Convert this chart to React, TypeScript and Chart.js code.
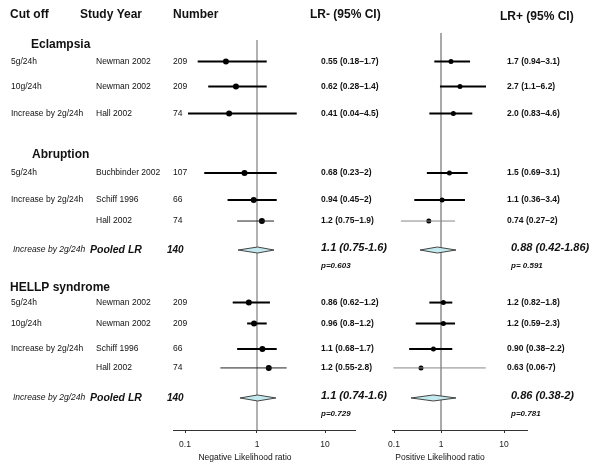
import React, { useEffect, useRef } from 'react';
import { Chart, registerables, LogarithmicScale } from 'chart.js';

Chart.register(...registerables);

// Log scale whose decades below and above 1 may have different widths (as in the source figure)
class SplitLogScale extends LogarithmicScale {
  static id = 'splitlog';
  static defaults = {};
  getPixelForValue(value: any) {
    if (value === null || value === undefined || isNaN(value) || value <= 0) return NaN;
    const lmin = Math.log10(this.min);
    const lmax = Math.log10(this.max);
    const w = (this.options as any).pivotFraction ?? 0.5;
    const l = Math.log10(value);
    const f = l < 0 ? (w * (l - lmin)) / -lmin : w + ((1 - w) * l) / lmax;
    return this.getPixelForDecimal(f);
  }
  getValueForPixel(pixel: number) {
    const lmin = Math.log10(this.min);
    const lmax = Math.log10(this.max);
    const w = (this.options as any).pivotFraction ?? 0.5;
    const f = this.getDecimalForPixel(pixel);
    const l = f < w ? lmin + (f / w) * -lmin : ((f - w) / (1 - w)) * lmax;
    return Math.pow(10, l);
  }
}
Chart.register(SplitLogScale as any);

// ---------------- DATA ----------------
const SECTIONS = ['Eclampsia', 'Abruption', 'HELLP syndrome'];
const HEADERS = ['Cut off', 'Study Year', 'Number', 'LR- (95% CI)', 'LR+ (95% CI)'];

const STUDY_CUTOFF = ['5g/24h', '10g/24h', 'Increase by 2g/24h', '5g/24h', 'Increase by 2g/24h', '', '5g/24h', '10g/24h', 'Increase by 2g/24h', ''];
const STUDY_NAME = ['Newman 2002', 'Newman 2002', 'Hall 2002', 'Buchbinder 2002', 'Schiff 1996', 'Hall 2002', 'Newman 2002', 'Newman 2002', 'Schiff 1996', 'Hall 2002'];
const STUDY_N = ['209', '209', '74', '107', '66', '74', '209', '209', '66', '74'];

const LRN_LABEL = ['0.55 (0.18–1.7)', '0.62 (0.28–1.4)', '0.41 (0.04–4.5)', '0.68 (0.23–2)', '0.94 (0.45–2)', '1.2 (0.75–1.9)', '0.86 (0.62–1.2)', '0.96 (0.8–1.2)', '1.1 (0.68–1.7)', '1.2 (0.55-2.8)'];
const LRP_LABEL = ['1.7 (0.94–3.1)', '2.7 (1.1–6.2)', '2.0 (0.83–4.6)', '1.5 (0.69–3.1)', '1.1 (0.36–3.4)', '0.74 (0.27–2)', '1.2 (0.82–1.8)', '1.2 (0.59–2.3)', '0.90 (0.38–2.2)', '0.63 (0.06-7)'];

// plotted estimates as drawn in the figure
const LRN_EST = [0.37, 0.51, 0.41, 0.67, 0.9, 1.18, 0.77, 0.91, 1.2, 1.49];
const LRN_LO = [0.15, 0.21, 0.11, 0.185, 0.39, 0.53, 0.46, 0.73, 0.53, 0.31];
const LRN_HI = [1.39, 1.39, 3.84, 1.95, 1.95, 1.78, 1.55, 1.39, 1.95, 2.73];
const LRP_EST = [1.44, 2.0, 1.57, 1.36, 1.04, 0.55, 1.09, 1.09, 0.69, 0.375];
const LRP_LO = [0.72, 0.95, 0.565, 0.5, 0.27, 0.14, 0.565, 0.29, 0.21, 0.097];
const LRP_HI = [2.89, 5.18, 3.14, 2.65, 2.4, 1.67, 1.51, 1.67, 1.51, 5.12];

const POOL_CUTOFF = ['Increase by 2g/24h', 'Increase by 2g/24h'];
const POOL_NAME = ['Pooled LR', 'Pooled LR'];
const POOL_N = ['140', '140'];
const POOL_N_EST = [1.02, 1.02];
const POOL_N_LO = [0.545, 0.58];
const POOL_N_HI = [1.78, 1.9];
const POOL_P_EST = [0.835, 0.687];
const POOL_P_LO = [0.357, 0.23];
const POOL_P_HI = [1.73, 1.73];
const POOL_N_LABEL = ['1.1 (0.75-1.6)', '1.1 (0.74-1.6)'];
const POOL_P_LABEL = ['0.88 (0.42-1.86)', '0.86 (0.38-2)'];
const POOL_N_PVAL = ['p=0.603', 'p=0.729'];
const POOL_P_PVAL = ['p= 0.591', 'p=0.781'];

const AXIS_TICKS = [0.1, 1, 10];
const AXIS_TICK_LABELS = ['0.1', '1', '10'];
const AXIS_TITLES = ['Negative Likelihood ratio', 'Positive Likelihood ratio'];

// ---------------- LAYOUT (row slots, in line units) ----------------
const ROW_Y = [2.15, 4.04, 6.08, 10.58, 12.62, 14.21, 20.37, 21.95, 23.88, 25.31];
const SECTION_Y = [0.91, 9.22, 19.27];
const SECTION_X = [31, 32, 10];
const POOL_Y = [16.4, 27.58];
const PVAL_DY = 1.21;
const HEADER_Y = -1.36;
const HEADER_X = [10, 80, 173, 310, 500];
const THIN_ROWS = [5, 9];
const FAMILY = "'Liberation Sans', Arial, Helvetica, sans-serif";

function ciDatasets(lo: number[], hi: number[], neg: boolean) {
  return lo.map((l, i) => {
    const thin = THIN_ROWS.includes(i);
    return {
      data: [
        { x: l, y: ROW_Y[i] },
        { x: hi[i], y: ROW_Y[i] },
      ],
      showLine: true,
      borderColor: thin ? (neg ? '#222' : '#888') : '#000',
      borderWidth: thin ? 1 : 2,
      pointRadius: 0,
    };
  });
}

function drawText(chart: any) {
  const { ctx, scales } = chart;
  const Y = (u: number) => scales.y.getPixelForValue(u);
  const f = (style: string, size: number) => `${style} ${size}px ${FAMILY}`;
  ctx.save();
  ctx.fillStyle = '#111';
  ctx.textBaseline = 'middle';
  ctx.textAlign = 'left';
  ctx.font = f('bold', 12);
  HEADERS.forEach((h, i) => ctx.fillText(h, HEADER_X[i], Y(HEADER_Y) + (i === 4 ? 2 : 0)));
  SECTIONS.forEach((s, i) => ctx.fillText(s, SECTION_X[i], Y(SECTION_Y[i])));
  STUDY_NAME.forEach((name, i) => {
    const y = Y(ROW_Y[i]);
    ctx.font = f('', 8.5);
    ctx.fillText(STUDY_CUTOFF[i], 11, y);
    ctx.fillText(name, 96, y);
    ctx.fillText(STUDY_N[i], 173, y);
    ctx.font = f('bold', 8.5);
    ctx.fillText(LRN_LABEL[i], 321, y);
    ctx.fillText(LRP_LABEL[i], 507, y);
  });
  POOL_NAME.forEach((name, i) => {
    const y = Y(POOL_Y[i]);
    ctx.font = f('italic', 8.5);
    ctx.fillText(POOL_CUTOFF[i], 13, y);
    ctx.font = f('italic bold', 10.5);
    ctx.fillText(name, 90, y);
    ctx.font = f('italic bold', 10);
    ctx.fillText(POOL_N[i], 167, y);
    ctx.font = f('italic bold', 11);
    ctx.fillText(POOL_N_LABEL[i], 321, y - 2);
    ctx.fillText(POOL_P_LABEL[i], 511, y - 2);
    ctx.font = f('italic bold', 8);
    ctx.fillText(POOL_N_PVAL[i], 321, Y(POOL_Y[i] + PVAL_DY));
    ctx.fillText(POOL_P_PVAL[i], 511, Y(POOL_Y[i] + PVAL_DY));
  });
  ctx.font = f('', 8.5);
  ctx.textAlign = 'center';
  const ty = chart.chartArea.bottom + 28;
  ctx.fillText(AXIS_TITLES[0], 245, ty);
  ctx.fillText(AXIS_TITLES[1], 440, ty);
  ctx.restore();
}

function makePlugin(cfg: any) {
  return {
    id: 'forest',
    beforeDatasetsDraw(chart: any) {
      const { ctx, chartArea, scales } = chart;
      const px = scales.x.getPixelForValue(1);
      ctx.save();
      ctx.strokeStyle = cfg.refColor;
      ctx.lineWidth = cfg.refWidth;
      ctx.beginPath();
      ctx.moveTo(px, chartArea.top + cfg.refInset);
      ctx.lineTo(px, chartArea.bottom);
      ctx.stroke();
      ctx.restore();
    },
    afterDatasetsDraw(chart: any) {
      const { ctx, scales } = chart;
      ctx.save();
      cfg.est.forEach((c: number, i: number) => {
        const y = scales.y.getPixelForValue(POOL_Y[i]);
        const xl = scales.x.getPixelForValue(cfg.lo[i]);
        const xc = scales.x.getPixelForValue(c);
        const xh = scales.x.getPixelForValue(cfg.hi[i]);
        ctx.beginPath();
        ctx.moveTo(xl, y);
        ctx.lineTo(xc, y - 3);
        ctx.lineTo(xh, y);
        ctx.lineTo(xc, y + 3);
        ctx.closePath();
        ctx.fillStyle = '#c3eaee';
        ctx.fill();
        ctx.strokeStyle = '#444';
        ctx.lineWidth = 1;
        ctx.stroke();
      });
      ctx.restore();
    },
    afterDraw(chart: any) {
      if (cfg.text) drawText(chart);
    },
  };
}

function makeConfig(side: 'neg' | 'pos') {
  const neg = side === 'neg';
  const est = neg ? LRN_EST : LRP_EST;
  const lo = neg ? LRN_LO : LRP_LO;
  const hi = neg ? LRN_HI : LRP_HI;
  return {
    type: 'scatter',
    data: {
      datasets: [
        ...ciDatasets(lo, hi, neg),
        { data: est.map((v, i) => ({ x: v, y: ROW_Y[i] })), pointRadius: neg ? 3 : 2.5, backgroundColor: '#000', borderWidth: 0 },
      ],
    },
    options: {
      animation: false,
      responsive: false,
      maintainAspectRatio: false,
      events: [],
      layout: { padding: neg ? { left: 173, right: 245, top: 33, bottom: 0 } : { left: 12, right: 13, top: 33, bottom: 0 } },
      plugins: { legend: { display: false }, tooltip: { enabled: false } },
      scales: {
        x: {
          type: 'splitlog',
          min: neg ? Math.pow(10, -1.167) : Math.pow(10, -1.043),
          max: neg ? Math.pow(10, 1.441) : Math.pow(10, 1.365),
          pivotFraction: neg ? 0.4615 : 0.363,
          afterBuildTicks: (s: any) => {
            s.ticks = AXIS_TICKS.map((v) => ({ value: v }));
          },
          afterFit: (s: any) => {
            s.height = 42;
          },
          grid: { drawOnChartArea: false, drawTicks: true, tickLength: 3, color: '#333' },
          border: { display: true, color: '#333', width: 1 },
          ticks: {
            autoSkip: false,
            maxRotation: 0,
            padding: 7,
            color: '#222',
            font: { family: FAMILY, size: 8.5 },
            major: { enabled: false },
            callback: (v: any) => {
              const k = AXIS_TICKS.indexOf(Number(v));
              return k >= 0 ? AXIS_TICK_LABELS[k] : '';
            },
          },
        },
        y: { type: 'linear', display: false, min: 0, max: 30, reverse: true },
      },
    },
    plugins: [
      makePlugin({
        refColor: neg ? '#999' : '#555',
        refWidth: neg ? 1.5 : 1,
        refInset: neg ? 7 : 0,
        est: neg ? POOL_N_EST : POOL_P_EST,
        lo: neg ? POOL_N_LO : POOL_P_LO,
        hi: neg ? POOL_N_HI : POOL_P_HI,
        text: neg,
      }),
    ],
  } as any;
}

export default function App() {
  const leftRef = useRef<HTMLCanvasElement>(null);
  const rightRef = useRef<HTMLCanvasElement>(null);
  useEffect(() => {
    const a = new Chart(leftRef.current as HTMLCanvasElement, makeConfig('neg'));
    const b = new Chart(rightRef.current as HTMLCanvasElement, makeConfig('pos'));
    return () => {
      a.destroy();
      b.destroy();
    };
  }, []);
  return (
    <div style={{ position: 'fixed', left: 0, top: 0, width: 600, height: 472, background: '#fff' }}>
      <canvas ref={leftRef} width={600} height={472} style={{ position: 'absolute', left: 0, top: 0, display: 'block' }} />
      <canvas ref={rightRef} width={160} height={472} style={{ position: 'absolute', left: 380, top: 0, display: 'block' }} />
    </div>
  );
}
